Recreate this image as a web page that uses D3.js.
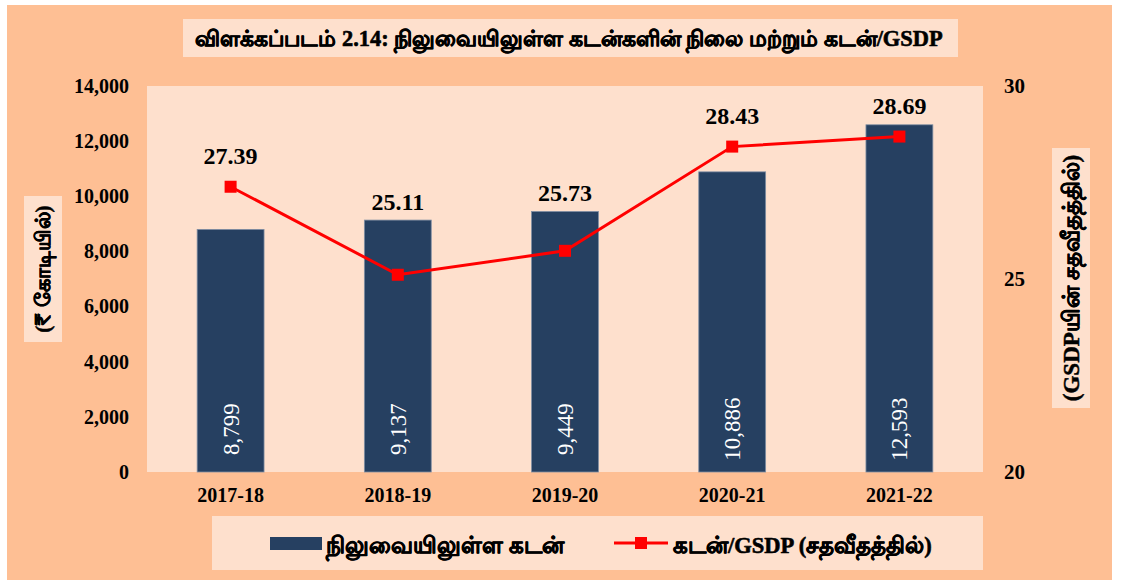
<!DOCTYPE html>
<html>
<head>
<meta charset="utf-8">
<script src="https://cdn.jsdelivr.net/npm/d3@7"></script>
<style>
  body { margin: 0; background: #fff; }
  svg text { font-family: "Liberation Serif", "Times New Roman", serif; }
</style>
</head>
<body>
<svg id="chart"></svg>
<script>
const width = 1125;
const height = 580;

// data
const years = ["2017-18", "2018-19", "2019-20", "2020-21", "2021-22"];
const debt = [8799, 9137, 9449, 10886, 12593];
const debtGsdp = [27.39, 25.11, 25.73, 28.43, 28.69];
const leftTicks = [0, 2000, 4000, 6000, 8000, 10000, 12000, 14000];
const rightTicks = [20, 25, 30];

const titleText = "விளக்கப்படம் 2.14: நிலுவையிலுள்ள கடன்களின் நிலை மற்றும் கடன்/GSDP";
const leftTitle = "(₹ கோடியில்)";
const rightTitle = "(GSDPயின் சதவீதத்தில்)";
const barName = "நிலுவையிலுள்ள கடன்";
const lineName = "கடன்/GSDP (சதவீதத்தில்)";

const outerBg = "#FEBF94";
const innerBg = "#FEE0CD";
const barColor = "#264061";
const lineColor = "#FF0000";

const plot = { left: 147, right: 983, top: 86, bottom: 472 };

const svg = d3.select("#chart")
  .attr("width", width)
  .attr("height", height);

svg.append("rect")
  .attr("x", 7).attr("y", 5)
  .attr("width", 1105).attr("height", 575)
  .attr("fill", outerBg);

// heavier look for the tamil text (the fallback font has no real bold)
function heavy(sel, w) {
  sel.attr("font-weight", "bold")
    .attr("stroke", "#000")
    .attr("stroke-width", w)
    .attr("stroke-linejoin", "round");
}

// title
svg.append("rect")
  .attr("x", 183).attr("y", 19)
  .attr("width", 775).attr("height", 38)
  .attr("fill", innerBg);

svg.append("text")
  .attr("x", 569).attr("y", 46)
  .attr("text-anchor", "middle")
  .attr("font-size", 22.4)
  .call(heavy, 0.6)
  .text(titleText);

// plot area
svg.append("rect")
  .attr("x", plot.left).attr("y", plot.top)
  .attr("width", plot.right - plot.left).attr("height", plot.bottom - plot.top)
  .attr("fill", innerBg);

const x = d3.scaleBand()
  .domain(years)
  .range([plot.left, plot.right])
  .paddingInner(0.6)
  .paddingOuter(0.3);

const yLeft = d3.scaleLinear().domain([0, 14000]).range([plot.bottom, plot.top]);
const yRight = d3.scaleLinear().domain([20, 30]).range([plot.bottom, plot.top]);

// axes (no lines, just labels)
const leftAxis = d3.axisLeft(yLeft)
  .tickValues(leftTicks)
  .tickFormat(d3.format(","))
  .tickSize(0)
  .tickPadding(0);

svg.append("g")
  .attr("transform", "translate(129,0)")
  .call(leftAxis)
  .call(g => g.select(".domain").remove())
  .selectAll("text")
  .attr("font-size", 20)
  .attr("font-weight", "bold")
  .attr("fill", "#000")
  .attr("font-family", "Liberation Serif");

const rightAxis = d3.axisRight(yRight)
  .tickValues(rightTicks)
  .tickSize(0)
  .tickPadding(0);

svg.append("g")
  .attr("transform", "translate(1004,0)")
  .call(rightAxis)
  .call(g => g.select(".domain").remove())
  .selectAll("text")
  .attr("font-size", 21)
  .attr("font-weight", "bold")
  .attr("fill", "#000")
  .attr("font-family", "Liberation Serif");

const bottomAxis = d3.axisBottom(x).tickSize(0).tickPadding(0);

svg.append("g")
  .attr("transform", "translate(0,488)")
  .call(bottomAxis)
  .call(g => g.select(".domain").remove())
  .selectAll("text")
  .attr("font-size", 20)
  .attr("font-weight", "bold")
  .attr("fill", "#000")
  .attr("font-family", "Liberation Serif");

// axis titles
svg.append("rect")
  .attr("x", 24).attr("y", 196)
  .attr("width", 38).attr("height", 146)
  .attr("fill", innerBg);

svg.append("text")
  .attr("transform", "translate(50,269) rotate(-90)")
  .attr("text-anchor", "middle")
  .attr("font-size", 21)
  .call(heavy, 0.5)
  .text(leftTitle);

svg.append("rect")
  .attr("x", 1052).attr("y", 148)
  .attr("width", 38).attr("height", 260)
  .attr("fill", innerBg);

svg.append("text")
  .attr("transform", "translate(1079,278) rotate(-90)")
  .attr("text-anchor", "middle")
  .attr("font-size", 23)
  .call(heavy, 0.5)
  .text(rightTitle);

// bars
const rows = years.map((yr, i) => ({ year: yr, debt: debt[i], pct: debtGsdp[i] }));

svg.selectAll("rect.bar")
  .data(rows)
  .enter().append("rect")
  .attr("class", "bar")
  .attr("x", d => x(d.year))
  .attr("y", d => yLeft(d.debt))
  .attr("width", x.bandwidth())
  .attr("height", d => yLeft(0) - yLeft(d.debt))
  .attr("fill", barColor)
  .attr("stroke", "#7f8ea3")
  .attr("stroke-width", 0.8);

svg.selectAll("text.barlabel")
  .data(rows)
  .enter().append("text")
  .attr("class", "barlabel")
  .attr("transform", d => `translate(${x(d.year) + x.bandwidth() / 2 + 8},429) rotate(-90)`)
  .attr("text-anchor", "middle")
  .attr("font-size", 23)
  .attr("fill", "#fff")
  .text(d => d3.format(",")(d.debt));

// line
const cx = d => x(d.year) + x.bandwidth() / 2;

const line = d3.line()
  .x(cx)
  .y(d => yRight(d.pct));

svg.append("path")
  .datum(rows)
  .attr("d", line)
  .attr("fill", "none")
  .attr("stroke", lineColor)
  .attr("stroke-width", 3);

svg.selectAll("rect.marker")
  .data(rows)
  .enter().append("rect")
  .attr("class", "marker")
  .attr("x", d => cx(d) - 6)
  .attr("y", d => yRight(d.pct) - 6)
  .attr("width", 12)
  .attr("height", 12)
  .attr("fill", lineColor);

svg.selectAll("text.linelabel")
  .data(rows)
  .enter().append("text")
  .attr("class", "linelabel")
  .attr("x", cx)
  .attr("y", d => Math.min(yRight(d.pct) - 23, yLeft(d.debt) - 10))
  .attr("text-anchor", "middle")
  .attr("font-size", 24)
  .attr("font-weight", "bold")
  .text(d => d3.format(".2f")(d.pct));

// legend
svg.append("rect")
  .attr("x", 212).attr("y", 516)
  .attr("width", 771).attr("height", 54)
  .attr("fill", innerBg);

svg.append("rect")
  .attr("x", 270).attr("y", 537)
  .attr("width", 52).attr("height", 13)
  .attr("fill", barColor);

svg.append("text")
  .attr("x", 326).attr("y", 553)
  .attr("font-size", 22.5)
  .attr("font-family", "Liberation Sans, Arial, sans-serif")
  .call(heavy, 0.6)
  .text(barName);

svg.append("line")
  .attr("x1", 614).attr("x2", 668)
  .attr("y1", 543).attr("y2", 543)
  .attr("stroke", lineColor)
  .attr("stroke-width", 3);

svg.append("rect")
  .attr("x", 635).attr("y", 537)
  .attr("width", 12).attr("height", 12)
  .attr("fill", lineColor);

svg.append("text")
  .attr("x", 673).attr("y", 553)
  .attr("font-size", 22.5)
  .attr("font-family", "Liberation Sans, Arial, sans-serif")
  .call(heavy, 0.6)
  .text(lineName);
</script>
</body>
</html>
